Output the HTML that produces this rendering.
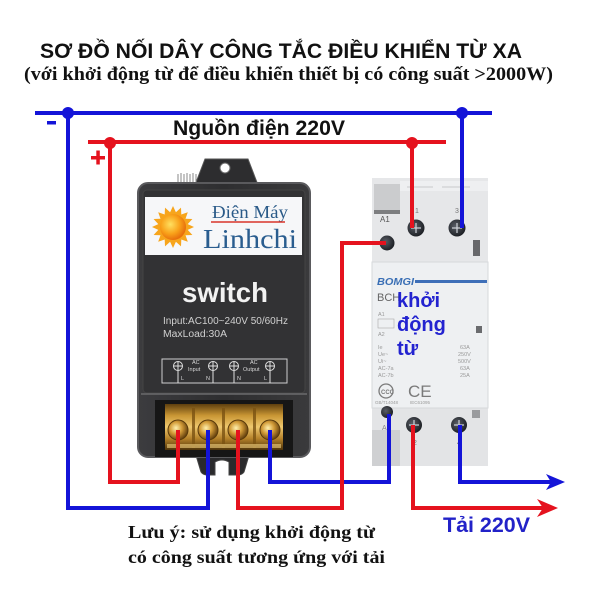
<!DOCTYPE html>
<html>
<head>
<meta charset="utf-8">
<style>
  html,body{margin:0;padding:0;background:#fff;}
  svg{display:block;}
</style>
</head>
<body>
<svg width="600" height="600" viewBox="0 0 600 600" xmlns="http://www.w3.org/2000/svg">
  <defs>
    <linearGradient id="body" x1="0" y1="0" x2="1" y2="0">
      <stop offset="0" stop-color="#3c3c3f"/>
      <stop offset="0.5" stop-color="#2e2e30"/>
      <stop offset="1" stop-color="#3a3a3c"/>
    </linearGradient>
    <linearGradient id="brass" x1="0" y1="0" x2="0" y2="1">
      <stop offset="0" stop-color="#5e3f0e"/>
      <stop offset="0.25" stop-color="#c99634"/>
      <stop offset="0.5" stop-color="#efc86e"/>
      <stop offset="0.75" stop-color="#b5822a"/>
      <stop offset="1" stop-color="#4e330a"/>
    </linearGradient>
    <radialGradient id="screw" cx="0.4" cy="0.4" r="0.6">
      <stop offset="0" stop-color="#fff1b0"/>
      <stop offset="0.5" stop-color="#d39c38"/>
      <stop offset="1" stop-color="#6a4510"/>
    </radialGradient>
    <radialGradient id="sun" cx="0.4" cy="0.4" r="0.6">
      <stop offset="0" stop-color="#ffe060"/>
      <stop offset="0.6" stop-color="#f9a21a"/>
      <stop offset="1" stop-color="#e8700c"/>
    </radialGradient>
    <radialGradient id="cscrew" cx="0.4" cy="0.4" r="0.6">
      <stop offset="0" stop-color="#5a5e66"/>
      <stop offset="1" stop-color="#1e2126"/>
    </radialGradient>
  </defs>

  <rect x="0" y="0" width="600" height="600" fill="#ffffff"/>

  <!-- Titles -->
  <text x="40" y="58" font-family="Liberation Sans, sans-serif" font-weight="bold" font-size="21" fill="#111" textLength="482" lengthAdjust="spacingAndGlyphs">SƠ ĐỒ NỐI DÂY CÔNG TẮC ĐIỀU KHIỂN TỪ XA</text>
  <text x="24" y="80" font-family="Liberation Serif, serif" font-weight="bold" font-size="19" fill="#111" textLength="529" lengthAdjust="spacingAndGlyphs">(với khởi động từ để điều khiển thiết bị có công suất &gt;2000W)</text>
  <text x="173" y="135" font-family="Liberation Sans, sans-serif" font-weight="bold" font-size="21" fill="#111" textLength="172" lengthAdjust="spacingAndGlyphs">Nguồn điện 220V</text>

  <!-- - and + -->
  <rect x="47" y="121" width="9" height="3.5" fill="#1414d8"/>
  <rect x="91" y="156" width="14" height="3.5" fill="#e5121e"/>
  <rect x="96.3" y="150.5" width="3.5" height="14" fill="#e5121e"/>

  <!-- ================= SWITCH BOX ================= -->
  <!-- mount tab -->
  <path d="M205,159 L248,159 L258,185 L195,185 Z" fill="#2d2d2f" stroke="#555" stroke-width="1"/>
  <circle cx="225" cy="168" r="5" fill="#fff" stroke="#666" stroke-width="1"/>
  <!-- small spring -->
  <g stroke="#888" stroke-width="1">
    <line x1="178" y1="174" x2="178" y2="183"/><line x1="181" y1="173" x2="181" y2="183"/>
    <line x1="184" y1="174" x2="184" y2="183"/><line x1="187" y1="173" x2="187" y2="183"/>
    <line x1="190" y1="174" x2="190" y2="183"/><line x1="193" y1="173" x2="193" y2="183"/>
    <line x1="196" y1="174" x2="196" y2="183"/>
  </g>
  <!-- bottom tab -->
  <path d="M195,452 L250,452 L244,472 Q242,475 238,475 L229,475 L229,462 Q222,458 215,462 L215,475 L207,475 Q203,475 201,472 Z" fill="#2a2a2c" stroke="#444" stroke-width="1"/>
  <!-- body -->
  <rect x="138" y="183" width="172" height="274" rx="10" fill="url(#body)" stroke="#5a5a5d" stroke-width="2"/>
  <rect x="143" y="190" width="162" height="203" rx="4" fill="#323234" stroke="#444" stroke-width="1"/>
  <line x1="141" y1="394" x2="307" y2="394" stroke="#6a6a6c" stroke-width="1.5"/>

  <!-- logo panel -->
  <rect x="145" y="197" width="157" height="58" fill="#f6f7f9"/>
  <polygon fill="#f7a51c" points="194,227 187.7,229.9 192.4,235 185.5,235.3 187.8,241.8 181.3,239.5 181,246.4 175.9,241.7 173,248 170.1,241.7 165,246.4 164.7,239.5 158.2,241.8 160.5,235.3 153.6,235 158.3,229.9 152,227 158.3,224.1 153.6,219 160.5,218.7 158.2,212.2 164.7,214.5 165,207.6 170.1,212.3 173,206 175.9,212.3 181,207.6 181.3,214.5 187.8,212.2 185.5,218.7 192.4,219 187.7,224.1"/>
  <circle cx="173" cy="227" r="13" fill="url(#sun)"/>
  <text x="212" y="218" font-family="Liberation Serif, serif" font-size="18" fill="#2a5a88" textLength="76" lengthAdjust="spacingAndGlyphs">Điện Máy</text>
  <line x1="211" y1="222" x2="285" y2="222" stroke="#d9352a" stroke-width="1.5"/>
  <text x="203" y="248" font-family="Liberation Serif, serif" font-size="27" fill="#2a5d8f" textLength="94" lengthAdjust="spacingAndGlyphs">Linhchi</text>

  <text x="182" y="302" font-family="Liberation Sans, sans-serif" font-weight="bold" font-size="28" fill="#f2f2f2" textLength="86" lengthAdjust="spacingAndGlyphs">switch</text>
  <text x="163" y="324" font-family="Liberation Sans, sans-serif" font-size="10" fill="#d0d0d0" textLength="125" lengthAdjust="spacingAndGlyphs">Input:AC100~240V 50/60Hz</text>
  <text x="163" y="337" font-family="Liberation Sans, sans-serif" font-size="10" fill="#d0d0d0" textLength="64" lengthAdjust="spacingAndGlyphs">MaxLoad:30A</text>

  <!-- terminal label box -->
  <rect x="162" y="359" width="125" height="24" fill="none" stroke="#cfcfcf" stroke-width="1"/>
  <g stroke="#e0e0e0" stroke-width="1" fill="none">
    <circle cx="178" cy="366" r="4.5"/><line x1="173.5" y1="366" x2="182.5" y2="366"/><line x1="178" y1="361.5" x2="178" y2="370.5"/>
    <circle cx="213" cy="366" r="4.5"/><line x1="208.5" y1="366" x2="217.5" y2="366"/><line x1="213" y1="361.5" x2="213" y2="370.5"/>
    <circle cx="234" cy="366" r="4.5"/><line x1="229.5" y1="366" x2="238.5" y2="366"/><line x1="234" y1="361.5" x2="234" y2="370.5"/>
    <circle cx="270" cy="366" r="4.5"/><line x1="265.5" y1="366" x2="274.5" y2="366"/><line x1="270" y1="361.5" x2="270" y2="370.5"/>
    <line x1="178" y1="371" x2="178" y2="383"/><line x1="213" y1="371" x2="213" y2="383"/>
    <line x1="234" y1="371" x2="234" y2="383"/><line x1="270" y1="371" x2="270" y2="383"/>
  </g>
  <g font-family="Liberation Sans, sans-serif" font-size="5.5" fill="#d8d8d8">
    <text x="192" y="364">AC</text><text x="188" y="371">Input</text>
    <text x="250" y="364">AC</text><text x="243" y="371">Output</text>
    <text x="181" y="380">L</text><text x="206" y="380">N</text>
    <text x="237" y="380">N</text><text x="264" y="380">L</text>
  </g>

  <!-- terminal block -->
  <rect x="155" y="400" width="138" height="57" fill="#161616"/>
  <rect x="165" y="404" width="118" height="46" fill="url(#brass)"/>
  <g fill="#7a5212" opacity="0.8">
    <rect x="192" y="408" width="3" height="40"/>
    <rect x="222" y="408" width="3" height="40"/>
    <rect x="253" y="408" width="3" height="40"/>
  </g>
  <circle cx="178" cy="430" r="10" fill="url(#screw)" stroke="#5a3a0a" stroke-width="1"/>
  <circle cx="208" cy="430" r="10" fill="url(#screw)" stroke="#5a3a0a" stroke-width="1"/>
  <circle cx="238" cy="430" r="10" fill="url(#screw)" stroke="#5a3a0a" stroke-width="1"/>
  <circle cx="270" cy="430" r="10" fill="url(#screw)" stroke="#5a3a0a" stroke-width="1"/>
  <rect x="167" y="444" width="114" height="4" fill="#f0d080" opacity="0.6"/>

  <!-- ================= CONTACTOR ================= -->
  <rect x="372" y="178" width="116" height="288" fill="#e3e4e6"/>
  <!-- upper section -->
  <rect x="372" y="178" width="116" height="84" fill="#e6e7e9"/>
  <rect x="400" y="181" width="88" height="10" fill="#eeeff1"/>
  <line x1="407" y1="187" x2="433" y2="187" stroke="#c8c9cc" stroke-width="1"/>
  <line x1="442" y1="187" x2="470" y2="187" stroke="#c8c9cc" stroke-width="1"/>
  <rect x="374" y="184" width="26" height="28" fill="#cbccce"/>
  <rect x="374" y="210" width="26" height="4" fill="#7d7e80"/>
  <rect x="473" y="240" width="7" height="16" fill="#67686b"/>
  <text x="380" y="222" font-family="Liberation Sans, sans-serif" font-size="8" fill="#555">A1</text>
  <text x="415" y="213" font-family="Liberation Sans, sans-serif" font-size="7" fill="#777">1</text>
  <text x="455" y="213" font-family="Liberation Sans, sans-serif" font-size="7" fill="#777">3</text>
  <!-- middle panel -->
  <rect x="372" y="262" width="116" height="146" fill="#eef0f2" stroke="#d6d8db" stroke-width="1"/>
  <text x="377" y="285" font-family="Liberation Sans, sans-serif" font-weight="bold" font-style="italic" font-size="10" fill="#3a6fb5" textLength="37" lengthAdjust="spacingAndGlyphs">BOMGI</text>
  <rect x="415" y="280" width="72" height="3" fill="#3e6fb8"/>
  <text x="377" y="301" font-family="Liberation Sans, sans-serif" font-size="11" fill="#666">BCH</text>
  <g font-family="Liberation Sans, sans-serif" font-size="5.5" fill="#9a9a9a">
    <text x="378" y="316">A1</text>
    <rect x="378" y="319" width="16" height="9" fill="none" stroke="#aaa" stroke-width="0.6"/>
    <text x="378" y="336">A2</text>
    <text x="378" y="349">Ie</text><text x="460" y="349">63A</text>
    <text x="378" y="356">Ue~</text><text x="458" y="356">250V</text>
    <text x="378" y="363">Ui~</text><text x="458" y="363">500V</text>
    <text x="378" y="370">AC-7a</text><text x="460" y="370">63A</text>
    <text x="378" y="377">AC-7b</text><text x="460" y="377">25A</text>
    <text x="375" y="404" font-size="4.5">GB/T14048</text>
    <text x="410" y="404" font-size="4.5">IEC61095</text>
  </g>
  <rect x="476" y="326" width="6" height="7" fill="#6a6b6e"/>
  <circle cx="386" cy="391" r="7" fill="none" stroke="#7a7a7a" stroke-width="1.3"/>
  <text x="381" y="394" font-family="Liberation Sans, sans-serif" font-size="6" font-weight="bold" fill="#7a7a7a">CCC</text>
  <text x="408" y="397" font-family="Liberation Sans, sans-serif" font-size="17" fill="#7a7a7a">CE</text>
  <!-- lower section -->
  <rect x="372" y="430" width="28" height="36" fill="#cfd0d2"/>
  <rect x="472" y="410" width="8" height="8" fill="#9a9b9e"/>
  <text x="382" y="430" font-family="Liberation Sans, sans-serif" font-size="7" fill="#888">A2</text>
  <text x="413" y="445" font-family="Liberation Sans, sans-serif" font-size="7" fill="#777">2</text>
  <text x="457" y="445" font-family="Liberation Sans, sans-serif" font-size="7" fill="#777">4</text>

  <!-- contactor screws -->
  <g>
    <circle cx="416" cy="228" r="8.5" fill="url(#cscrew)"/>
    <circle cx="457" cy="228" r="8.5" fill="url(#cscrew)"/>
    <circle cx="387" cy="243" r="7.5" fill="url(#cscrew)"/>
    <circle cx="387" cy="412" r="6" fill="url(#cscrew)"/>
    <circle cx="414" cy="425" r="8" fill="url(#cscrew)"/>
    <circle cx="459" cy="425" r="8" fill="url(#cscrew)"/>
  </g>
  <g stroke="#d0d4da" stroke-width="1.2">
    <line x1="411" y1="228" x2="421" y2="228"/><line x1="416" y1="223" x2="416" y2="233"/>
    <line x1="452" y1="228" x2="462" y2="228"/><line x1="457" y1="223" x2="457" y2="233"/>
    <line x1="409" y1="425" x2="419" y2="425"/><line x1="414" y1="420" x2="414" y2="430"/>
    <line x1="454" y1="425" x2="464" y2="425"/><line x1="459" y1="420" x2="459" y2="430"/>
  </g>

  <text x="397" y="307" font-family="Liberation Sans, sans-serif" font-weight="bold" font-size="20" fill="#2323d0">khởi</text>
  <text x="397" y="331" font-family="Liberation Sans, sans-serif" font-weight="bold" font-size="20" fill="#2323d0">động</text>
  <text x="397" y="355" font-family="Liberation Sans, sans-serif" font-weight="bold" font-size="20" fill="#2323d0">từ</text>

  <!-- ================= WIRES ================= -->
  <g fill="none" stroke-width="4" stroke-linejoin="miter" stroke-linecap="butt">
    <!-- blue -->
    <path d="M35,113 H492" stroke="#1414d8"/>
    <path d="M68,113 V508 H208 V430" stroke="#1414d8"/>
    <path d="M462,113 V228" stroke="#1414d8"/>
    <path d="M270,430 V482 H389 V414" stroke="#1414d8"/>
    <path d="M460,425 V482 H552" stroke="#1414d8"/>
    <!-- red -->
    <path d="M88,142 H446" stroke="#e5121e"/>
    <path d="M110,142 V482 H178 V430" stroke="#e5121e"/>
    <path d="M412,142 V228" stroke="#e5121e"/>
    <path d="M238,430 V508 H342 V243 H386" stroke="#e5121e"/>
    <path d="M413,425 V508 H545" stroke="#e5121e"/>
  </g>
  <polygon points="565,482 546,474 551,482 546,490" fill="#1414d8"/>
  <polygon points="558,508 537,499 543,508 537,517" fill="#e5121e"/>

  <!-- junction dots -->
  <circle cx="68" cy="113" r="6" fill="#1414d8"/>
  <circle cx="462" cy="113" r="6" fill="#1414d8"/>
  <circle cx="110" cy="143" r="6" fill="#e5121e"/>
  <circle cx="412" cy="143" r="6" fill="#e5121e"/>

  <!-- bottom texts -->
  <text x="443" y="532" font-family="Liberation Sans, sans-serif" font-weight="bold" font-size="21" fill="#2222c8" textLength="87" lengthAdjust="spacingAndGlyphs">Tải 220V</text>
  <text x="128" y="538" font-family="Liberation Serif, serif" font-weight="bold" font-size="18" fill="#111" textLength="247" lengthAdjust="spacingAndGlyphs">Lưu ý: sử dụng khởi động từ</text>
  <text x="128" y="563" font-family="Liberation Serif, serif" font-weight="bold" font-size="18" fill="#111" textLength="257" lengthAdjust="spacingAndGlyphs">có công suất tương ứng với tải</text>
</svg>
</body>
</html>
